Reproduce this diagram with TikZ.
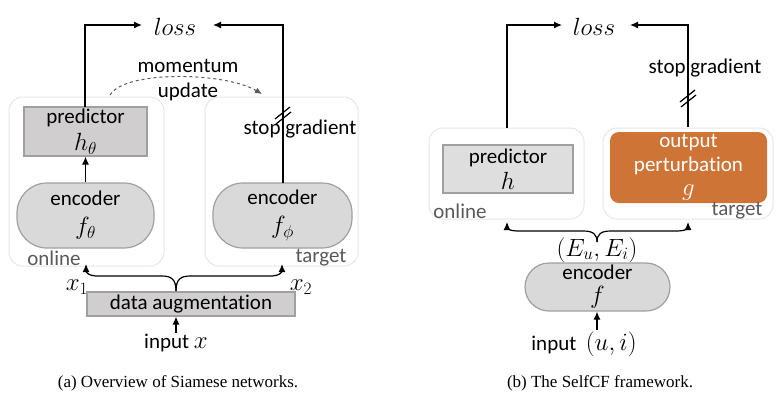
\documentclass[tikz,border=0pt]{standalone}
\usepackage{fontspec}
\setmainfont{Carlito}[Ligatures=NoCommon]
\newfontfamily\capfont{Liberation Serif}
\usetikzlibrary{arrows.meta}
\definecolor{boxgray}{HTML}{D0CECE}
\definecolor{encgray}{HTML}{D9D9D9}
\definecolor{lightgray2}{HTML}{DEDEDE}
\definecolor{bordergray}{HTML}{A0A0A0}
\definecolor{contgray}{HTML}{E6E6E6}
\definecolor{labgray}{HTML}{595959}
\definecolor{orangebox}{HTML}{CD7436}
\newcommand{\mth}[1]{{\fontsize{23}{24}\selectfont$#1$}}
\tikzset{
  x=1pt,y=-1pt,
  every node/.style={font=\fontsize{21}{24}\selectfont, inner sep=0pt},
  mathlbl/.style={font=\fontsize{23}{26}\selectfont},
  container/.style={draw=contgray, line width=1pt, rounded corners=14pt},
  predbox/.style={draw=bordergray, line width=1.2pt, fill=boxgray, align=center},
  encpill/.style={draw=bordergray, line width=1.2pt, fill=encgray, rounded corners=30pt, align=center},
  conn/.style={line width=1.2pt, -{Latex[length=8pt,width=7pt]}},
  plain/.style={line width=1.2pt},
  lbl/.style={text=labgray},
  caption/.style={font=\capfont\fontsize{17}{20}\selectfont}
}
\begin{document}
\begin{tikzpicture}
\useasboundingbox (0,0) rectangle (783,400);
% ---------- (a) ----------
\draw[container] (9,97) rectangle (164,266);
\draw[container] (205,97) rectangle (358,266);
\node[predbox, minimum width=123pt, minimum height=49pt] (predA) at (85.5,131.5) {predictor\\[3pt]\mth{h_\theta}};
\node[encpill, minimum width=137pt, minimum height=65pt] (encA1) at (85.5,215.5) {encoder\\[5pt]\mth{f_\theta}};
\node[encpill, minimum width=139pt, minimum height=65pt] (encA2) at (282.5,215.5) {encoder\\[5pt]\mth{f_\phi}};
\node[lbl] (onA) at (54,258) {online};
\node[lbl] (tgA) at (321,258) {target};
\node[mathlbl] (lossA) at (175,27) {$loss$};
\coordinate (la) at (142,25);
\coordinate (ra) at (213,25);
\draw[conn] (85,107) |- (la);
\draw[conn] (283,183) |- (ra);
\draw[plain] (275,119) -- (290,107);
\draw[plain] (276,124) -- (291,112);
\node (sgA) at (300,129) {stop gradient};
\node (momA) at (188,66) {momentum};
\node (updA) at (188,92) {update};
\coordinate (mstart) at (110,95);
\coordinate (mend) at (262,94);
\draw[labgray, dashed, line width=1pt, -{Latex[length=7pt,width=6pt]}] (mstart) .. controls (125,70) and (225,72) .. (mend);
\draw[conn] (encA1.north) -- (predA.south);
\node[predbox, minimum width=208pt, minimum height=24pt] (aug) at (191,304) {data augmentation};
\coordinate (braceA) at (176,291);
\coordinate (x1end) at (86,264);
\coordinate (x2end) at (282,264);
\draw[conn] (braceA) .. controls (176,280) and (172,276) .. (162,276) -- (96,276) .. controls (89,276) and (86,272) .. (x1end);
\draw[conn] (braceA) .. controls (176,280) and (180,276) .. (190,276) -- (272,276) .. controls (279,276) and (282,272) .. (x2end);
\node[mathlbl] (x1) at (77,287) {$x_1$};
\node[mathlbl] (x2) at (301,287) {$x_2$};
\node (inA) at (176,343) {input \mth{x}};
\coordinate (inAtop) at (176,333);
\draw[conn] (inAtop) -- (inAtop |- aug.south);
\node[caption] (capA) at (178,383) {(a) Overview of Siamese networks.};
% ---------- (b) ----------
\draw[container] (429,128) rectangle (584,219);
\draw[container] (603,128) rectangle (773,219);
\node[predbox, fill=lightgray2, minimum width=130pt, minimum height=48pt] (predB) at (508,169) {predictor\\[2pt]\mth{h}};
\node[fill=orangebox, text=white, rounded corners=9pt, minimum width=157pt, minimum height=71pt, align=center] (pert) at (688.5,167.5) {output\\perturbation\\[0pt]\mth{g}};
\node[lbl] (onB) at (460,211) {online};
\node[lbl] (tgB) at (737,211) {target};
\node[mathlbl] (lossB) at (594,27) {$loss$};
\coordinate (lb) at (562,25);
\coordinate (rb) at (630,25);
\draw[conn] (507,128) |- (lb);
\draw[conn] (688,127) |- (rb);
\draw[plain] (680,102) -- (695,90);
\draw[plain] (681,107) -- (696,95);
\node (sgB) at (705,68) {stop gradient};
\node[encpill, minimum width=145pt, minimum height=48pt, rounded corners=24pt] (encB) at (597.5,287) {encoder\\[0pt]\mth{f}};
\node[mathlbl] (eui) at (597,250) {$(E_u, E_i)$};
\coordinate (braceB) at (597,242);
\coordinate (onend) at (507,222);
\coordinate (tgend) at (688,222);
\draw[conn] (braceB) .. controls (597,234) and (593,231) .. (583,231) -- (517,231) .. controls (510,231) and (507,228) .. (onend);
\draw[conn] (braceB) .. controls (597,234) and (601,231) .. (611,231) -- (678,231) .. controls (685,231) and (688,228) .. (tgend);
\node (inB) at (584,344) {input\ \ \mth{(u, i)}};
\coordinate (inBtop) at (597,330);
\draw[conn] (inBtop) -- (inBtop |- encB.south);
\node[caption] (capB) at (600,383) {(b) The SelfCF framework.};
\end{tikzpicture}
\end{document}
